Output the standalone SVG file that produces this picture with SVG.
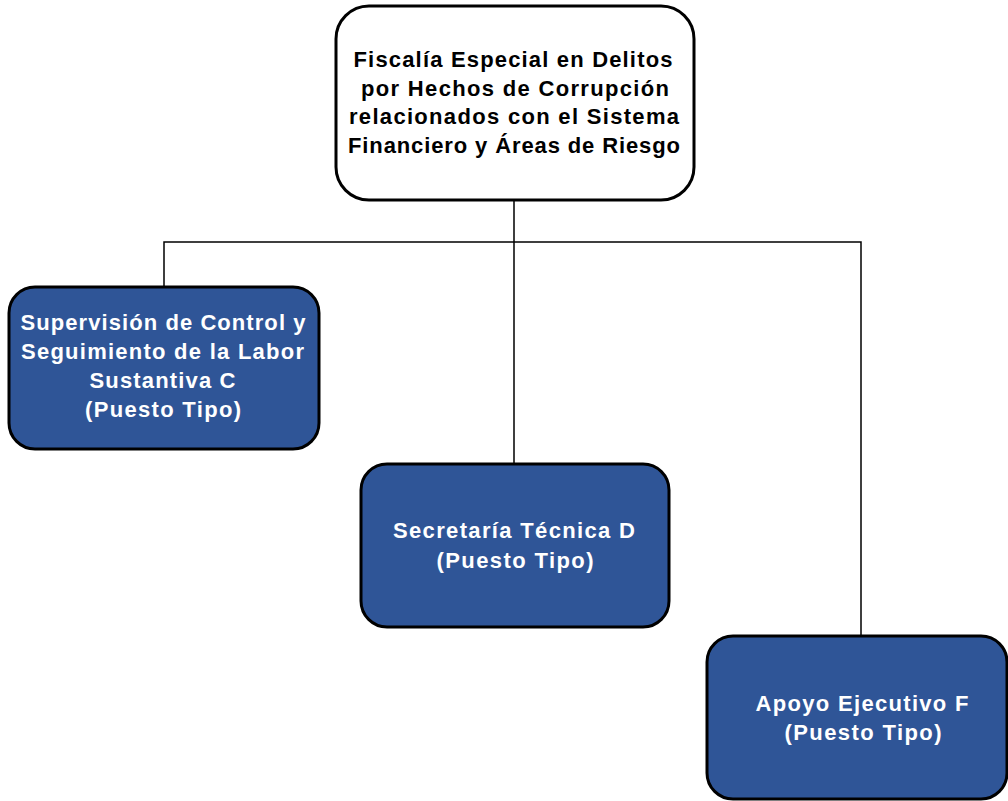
<svg xmlns="http://www.w3.org/2000/svg" width="1008" height="801" viewBox="0 0 1008 801">
<style>
.box{fill:#2F5597;stroke:#000;stroke-width:3}
.top{fill:#fff;stroke:#000;stroke-width:3}
.t{font-family:"Liberation Sans",Arial,sans-serif;font-weight:bold;font-size:22px;text-anchor:middle}
.w{fill:#fff}
.k{fill:#000}
.c{fill:none;stroke:#000;stroke-width:1.5}
</style>
<rect width="1008" height="801" fill="#fff"/>
<g id="connectors">
<path class="c" d="M514 200V464M164 288V242H861V636"/>
</g>
<g id="n0">
<rect class="top" x="336" y="6" width="358" height="194" rx="33"/>
<text class="t k" x="513" y="67" textLength="319" lengthAdjust="spacing">Fiscalía Especial en Delitos</text>
<text class="t k" x="515" y="95.5" textLength="308" lengthAdjust="spacing">por Hechos de Corrupción</text>
<text class="t k" x="514" y="124" textLength="330" lengthAdjust="spacing">relacionados con el Sistema</text>
<text class="t k" x="514" y="153" textLength="332" lengthAdjust="spacing">Financiero y Áreas de Riesgo</text>
</g>
<g id="n1">
<rect class="box" x="9" y="287" width="310" height="162" rx="26"/>
<text class="t w" x="163" y="330" textLength="285" lengthAdjust="spacing">Supervisión de Control y</text>
<text class="t w" x="162.5" y="359" textLength="283" lengthAdjust="spacing">Seguimiento de la Labor</text>
<text class="t w" x="162.5" y="388" textLength="146" lengthAdjust="spacing">Sustantiva C</text>
<text class="t w" x="163" y="417" textLength="156" lengthAdjust="spacing">(Puesto Tipo)</text>
</g>
<g id="n2">
<rect class="box" x="361" y="464" width="308" height="163" rx="26"/>
<text class="t w" x="514" y="538" textLength="242" lengthAdjust="spacing">Secretaría Técnica D</text>
<text class="t w" x="515" y="568" textLength="157" lengthAdjust="spacing">(Puesto Tipo)</text>
</g>
<g id="n3">
<rect class="box" x="707" y="636" width="300" height="163" rx="26"/>
<text class="t w" x="862" y="711" textLength="213" lengthAdjust="spacing">Apoyo Ejecutivo F</text>
<text class="t w" x="863" y="740" textLength="157" lengthAdjust="spacing">(Puesto Tipo)</text>
</g>
</svg>
